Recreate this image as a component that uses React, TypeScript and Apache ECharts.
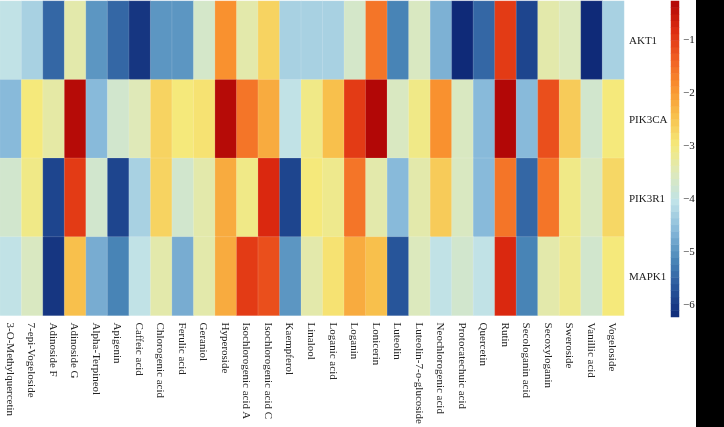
import React, { useEffect, useRef } from "react";
import * as echarts from "echarts";

const compounds = [
  "3-O-Methylquercetin",
  "7-epi-Vogeloside",
  "Adinoside F",
  "Adinoside G",
  "Alpha-Terpineol",
  "Apigenin",
  "Caffeic acid",
  "Chlorogenic acid",
  "Ferulic acid",
  "Geraniol",
  "Hyperoside",
  "Isochlorogenic acid A",
  "Isochlorogenic acid C",
  "Kaempferol",
  "Linalool",
  "Loganic acid",
  "Loganin",
  "Lonicerin",
  "Luteolin",
  "Luteolin-7-o-glucoside",
  "Neochlorogenic acid",
  "Protocatechuic acid",
  "Quercetin",
  "Rutin",
  "Secologanin acid",
  "Secoxyloganin",
  "Sweroside",
  "Vanillic acid",
  "Vogeloside",
];

const genes = ["AKT1", "PIK3CA", "PIK3R1", "MAPK1"];

const akt1 = [-4.05, -4.3, -5.5, -3.4, -5.0, -5.5, -6.1, -5.0, -5.0, -3.7, -1.9, -3.4, -2.7, -4.3, -4.3, -4.3, -3.7, -1.6, -5.2, -3.6, -4.7, -6.25, -5.5, -1.0, -5.9, -3.4, -3.55, -6.25, -4.3];
const pik3ca = [-4.6, -3.0, -3.35, -0.35, -4.6, -3.75, -3.5, -2.7, -3.0, -2.9, -0.35, -1.6, -2.2, -4.05, -3.1, -2.45, -1.0, -0.3, -3.6, -3.1, -1.9, -3.6, -4.6, -0.3, -4.6, -1.2, -2.6, -3.75, -3.0];
const pik3r1 = [-3.75, -3.1, -5.9, -1.0, -3.75, -5.9, -4.3, -2.7, -3.75, -3.4, -2.2, -3.1, -0.8, -5.9, -3.0, -3.15, -1.6, -3.4, -4.6, -3.4, -2.6, -3.6, -4.6, -1.6, -5.5, -1.6, -3.1, -3.6, -2.75];
const mapk1 = [-4.05, -3.6, -6.1, -2.45, -4.75, -5.2, -4.05, -3.4, -4.75, -3.4, -2.2, -1.0, -1.2, -5.0, -3.4, -2.9, -2.2, -2.45, -5.7, -3.55, -4.05, -3.75, -4.05, -0.8, -5.2, -3.4, -3.15, -3.75, -3.0];

const colorbarTicks = [-6, -5, -4, -3, -2, -1];
const scaleMin = -6.25;
const scaleMax = -0.28;
const colorbarBands = 48;
const palette = [
  "#0f2a78",
  "#27549a",
  "#4a87b8",
  "#86b8d9",
  "#bfe2e8",
  "#dde9bc",
  "#f5e97a",
  "#f8c04c",
  "#f9922f",
  "#f05f22",
  "#dc2a0f",
  "#b00606",
];

const FONT = "'Liberation Serif', 'Times New Roman', serif";

export default function App() {
  const ref = useRef<HTMLDivElement>(null);
  useEffect(() => {
    if (!ref.current) return;
    const chart = echarts.init(ref.current, null, { renderer: "svg" });
    const rows = [akt1, pik3ca, pik3r1, mapk1];
    const data: number[][] = [];
    rows.forEach((r, yi) => r.forEach((v, xi) => data.push([xi, yi, v])));

    // colour-bar bands: one cell per band of the scale, coloured by the same visualMap
    const bandStep = (scaleMax - scaleMin) / colorbarBands;
    const bandCats: string[] = [];
    const bandData: number[][] = [];
    for (let i = 0; i < colorbarBands; i++) {
      bandCats.push(String(i));
      bandData.push([0, i, scaleMin + (i + 0.5) * bandStep]);
    }

    chart.setOption({
      animation: false,
      grid: [
        { left: 0, top: 1, width: 624, height: 316 },
        { left: 671, top: 1, width: 8, height: 316 },
      ],
      xAxis: [
        {
          type: "category",
          gridIndex: 0,
          data: compounds,
          axisLine: { show: false },
          axisTick: { show: false },
          splitLine: { show: false },
          axisLabel: {
            rotate: -90,
            interval: 0,
            margin: 7,
            fontFamily: FONT,
            fontSize: 11,
            color: "#222",
          },
        },
        { type: "category", gridIndex: 1, data: ["bar"], show: false },
      ],
      yAxis: [
        {
          type: "category",
          gridIndex: 0,
          data: genes,
          inverse: true,
          position: "right",
          axisLine: { show: false },
          axisTick: { show: false },
          splitLine: { show: false },
          axisLabel: {
            margin: 5,
            fontFamily: FONT,
            fontSize: 11,
            color: "#222",
          },
        },
        {
          type: "value",
          gridIndex: 1,
          min: scaleMin,
          max: scaleMax,
          position: "right",
          axisLine: { show: false },
          axisTick: { show: false },
          splitLine: { show: false },
          axisLabel: {
            customValues: colorbarTicks,
            margin: 4,
            fontFamily: FONT,
            fontSize: 11,
            color: "#222",
            formatter: (v: number) => "\u2212" + Math.abs(v),
          },
        },
        {
          type: "category",
          gridIndex: 1,
          data: bandCats,
          show: false,
        },
      ],
      visualMap: {
        type: "continuous",
        show: false,
        min: scaleMin,
        max: scaleMax,
        seriesIndex: [0, 1],
        inRange: { color: palette },
      },
      series: [
        {
          type: "heatmap",
          xAxisIndex: 0,
          yAxisIndex: 0,
          data,
          itemStyle: { borderColor: "rgba(255,255,255,0.3)", borderWidth: 0.5 },
          emphasis: { disabled: true },
        },
        {
          type: "heatmap",
          xAxisIndex: 1,
          yAxisIndex: 2,
          data: bandData,
          itemStyle: { borderWidth: 0 },
          emphasis: { disabled: true },
          silent: true,
        },
      ],
      graphic: [
        {
          type: "rect",
          left: 696,
          top: 0,
          shape: { width: 28, height: 427 },
          style: { fill: "#000" },
          silent: true,
        },
      ],
    });
    return () => chart.dispose();
  }, []);
  return (
    <div
      ref={ref}
      style={{ position: "fixed", left: 0, top: 0, width: 724, height: 427 }}
    />
  );
}
